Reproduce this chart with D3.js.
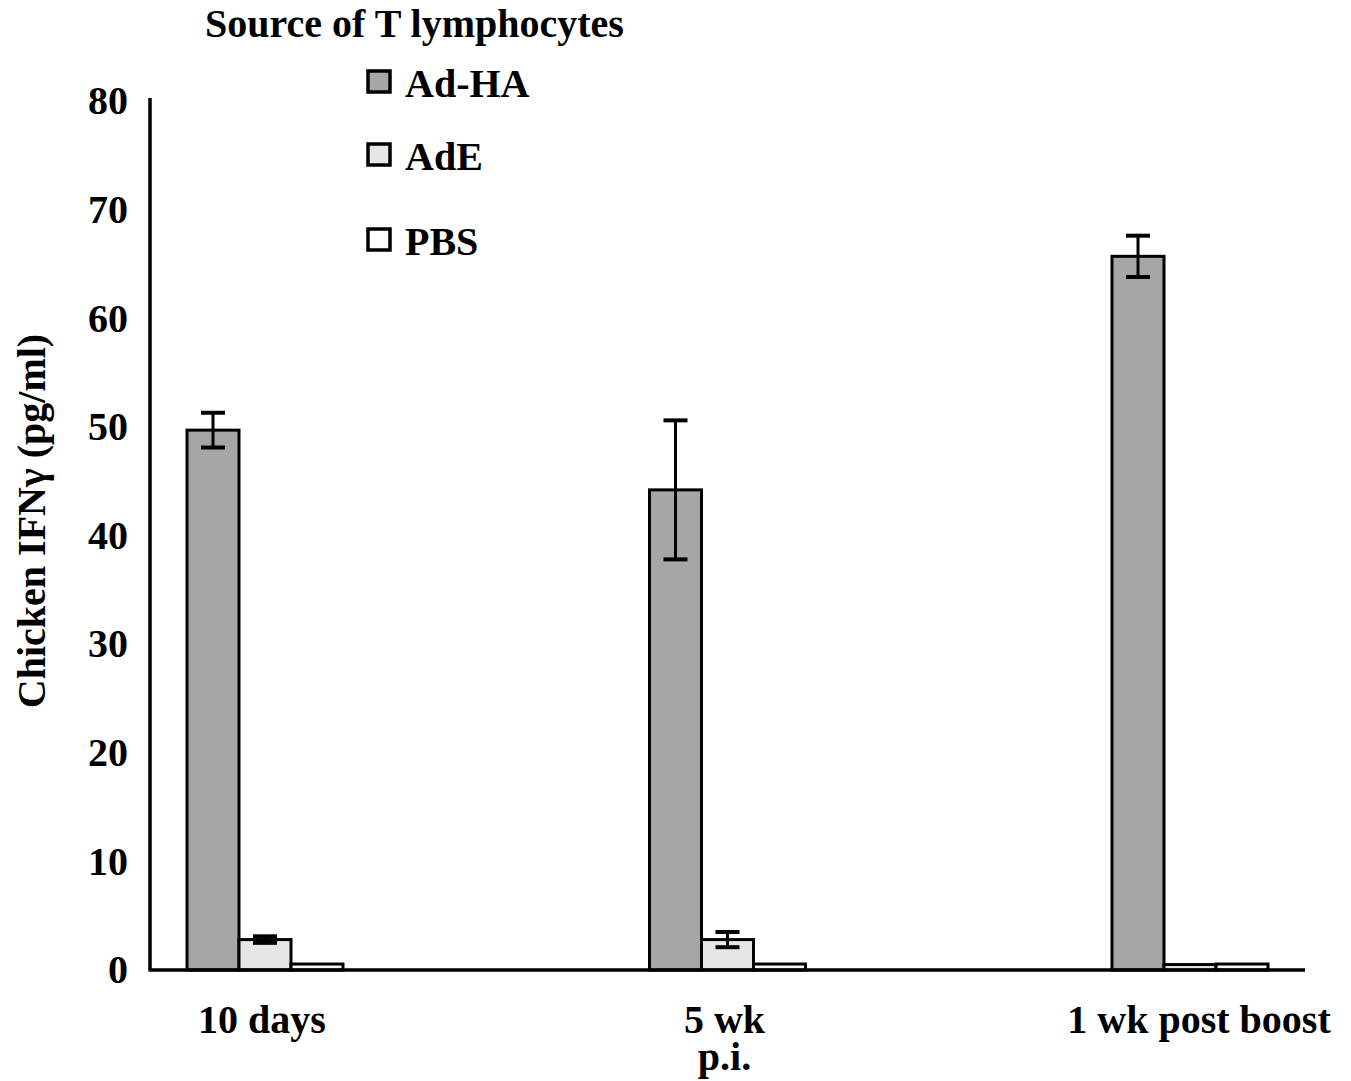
<!DOCTYPE html>
<html>
<head>
<meta charset="utf-8">
<script src="https://cdn.jsdelivr.net/npm/d3@7"></script>
<style>
  body { margin: 0; background: #fff; }
  text { font-family: "Liberation Serif", "Times New Roman", serif; font-weight: bold; fill: #000; }
</style>
</head>
<body>
<div id="chart"></div>
<script>
var groups = ["10 days", "5 wk\np.i.", "1 wk post boost"]
var series = ["Ad-HA", "AdE", "PBS"]
var colors = ["#a6a6a6", "#e6e6e6", "#f7f7f7"]
var adHA = [49.7, 44.2, 65.7]
var adHAErr = [1.6, 6.4, 1.9]
var adE = [2.8, 2.8, 0.5]
var adEErr = [0.3, 0.7, 0]
var pbs = [0.55, 0.55, 0.55]
var pbsErr = [0, 0, 0]
var yTicks = [0, 10, 20, 30, 40, 50, 60, 70, 80]

var values = [adHA, adE, pbs]
var errors = [adHAErr, adEErr, pbsErr]

var WIDTH = 1351, HEIGHT = 1081
var MARGIN = {TOP: 101, LEFT: 150, BOTTOM: 970, RIGHT: 1305}
var FONT = "40px"

var svg = d3.select("#chart").append("svg")
  .attr("width", WIDTH)
  .attr("height", HEIGHT)

var x = d3.scalePoint()
  .domain(groups)
  .range([265, 1190])

var y = d3.scaleLinear()
  .domain([0, 80])
  .range([MARGIN.BOTTOM, MARGIN.TOP])

var barW = 52

// y tick labels, no tick marks
var yAxis = d3.axisLeft(y).tickValues(yTicks).tickSize(0).tickPadding(22)
var gy = svg.append("g")
  .attr("transform", "translate(" + MARGIN.LEFT + ",0)")
  .call(yAxis)
gy.select(".domain").remove()
gy.selectAll("text").style("font-size", FONT).attr("dy", "0.32em")

// bars
for (var s = 0; s < series.length; s++) {
  var g = svg.append("g")
  groups.forEach(function(d, i) {
    var cx = x(d) + (s - 1) * barW
    g.append("rect")
      .attr("x", cx - barW / 2)
      .attr("y", y(values[s][i]))
      .attr("width", barW)
      .attr("height", y(0) - y(values[s][i]))
      .style("fill", colors[s])
      .style("stroke", "#000")
      .style("stroke-width", 3)
    var e = errors[s][i]
    if (e > 0) {
      var top = y(values[s][i] + e), bot = y(values[s][i] - e)
      g.append("line").attr("x1", cx).attr("x2", cx).attr("y1", top).attr("y2", bot)
        .style("stroke", "#000").style("stroke-width", 3)
      g.append("line").attr("x1", cx - 12).attr("x2", cx + 12).attr("y1", top).attr("y2", top)
        .style("stroke", "#000").style("stroke-width", 4)
      g.append("line").attr("x1", cx - 12).attr("x2", cx + 12).attr("y1", bot).attr("y2", bot)
        .style("stroke", "#000").style("stroke-width", 4)
    }
  })
}

// axis lines
svg.append("line")
  .attr("x1", MARGIN.LEFT).attr("x2", MARGIN.LEFT)
  .attr("y1", MARGIN.TOP - 3).attr("y2", MARGIN.BOTTOM)
  .style("stroke", "#000").style("stroke-width", 3.5)
svg.append("line")
  .attr("x1", MARGIN.LEFT - 1.5).attr("x2", MARGIN.RIGHT)
  .attr("y1", MARGIN.BOTTOM).attr("y2", MARGIN.BOTTOM)
  .style("stroke", "#000").style("stroke-width", 3.5)

// x labels
groups.forEach(function(d) {
  var lines = d.split("\n")
  var lx = x(d) + (lines[0].length > 10 ? 9 : -3)
  var t = svg.append("text")
    .attr("y", 1033)
    .attr("text-anchor", "middle")
    .style("font-size", FONT)
  lines.forEach(function(l, k) {
    t.append("tspan").attr("x", lx).attr("dy", k == 0 ? 0 : 37).text(l)
  })
})

// y title
svg.append("text")
  .attr("transform", "translate(45,521) rotate(-90)")
  .attr("text-anchor", "middle")
  .style("font-size", FONT)
  .text("Chicken IFNγ (pg/ml)")

// legend
svg.append("text")
  .attr("x", 205).attr("y", 37)
  .style("font-size", FONT)
  .text("Source of T lymphocytes")

var legendY = [97, 170, 255]
series.forEach(function(s, i) {
  svg.append("rect")
    .attr("x", 368).attr("y", legendY[i] - 26)
    .attr("width", 22).attr("height", 21)
    .style("fill", i == 2 ? "#fff" : colors[i])
    .style("stroke", "#000").style("stroke-width", 3.5)
  svg.append("text")
    .attr("x", 405).attr("y", legendY[i])
    .style("font-size", FONT)
    .text(s)
})
</script>
</body>
</html>
